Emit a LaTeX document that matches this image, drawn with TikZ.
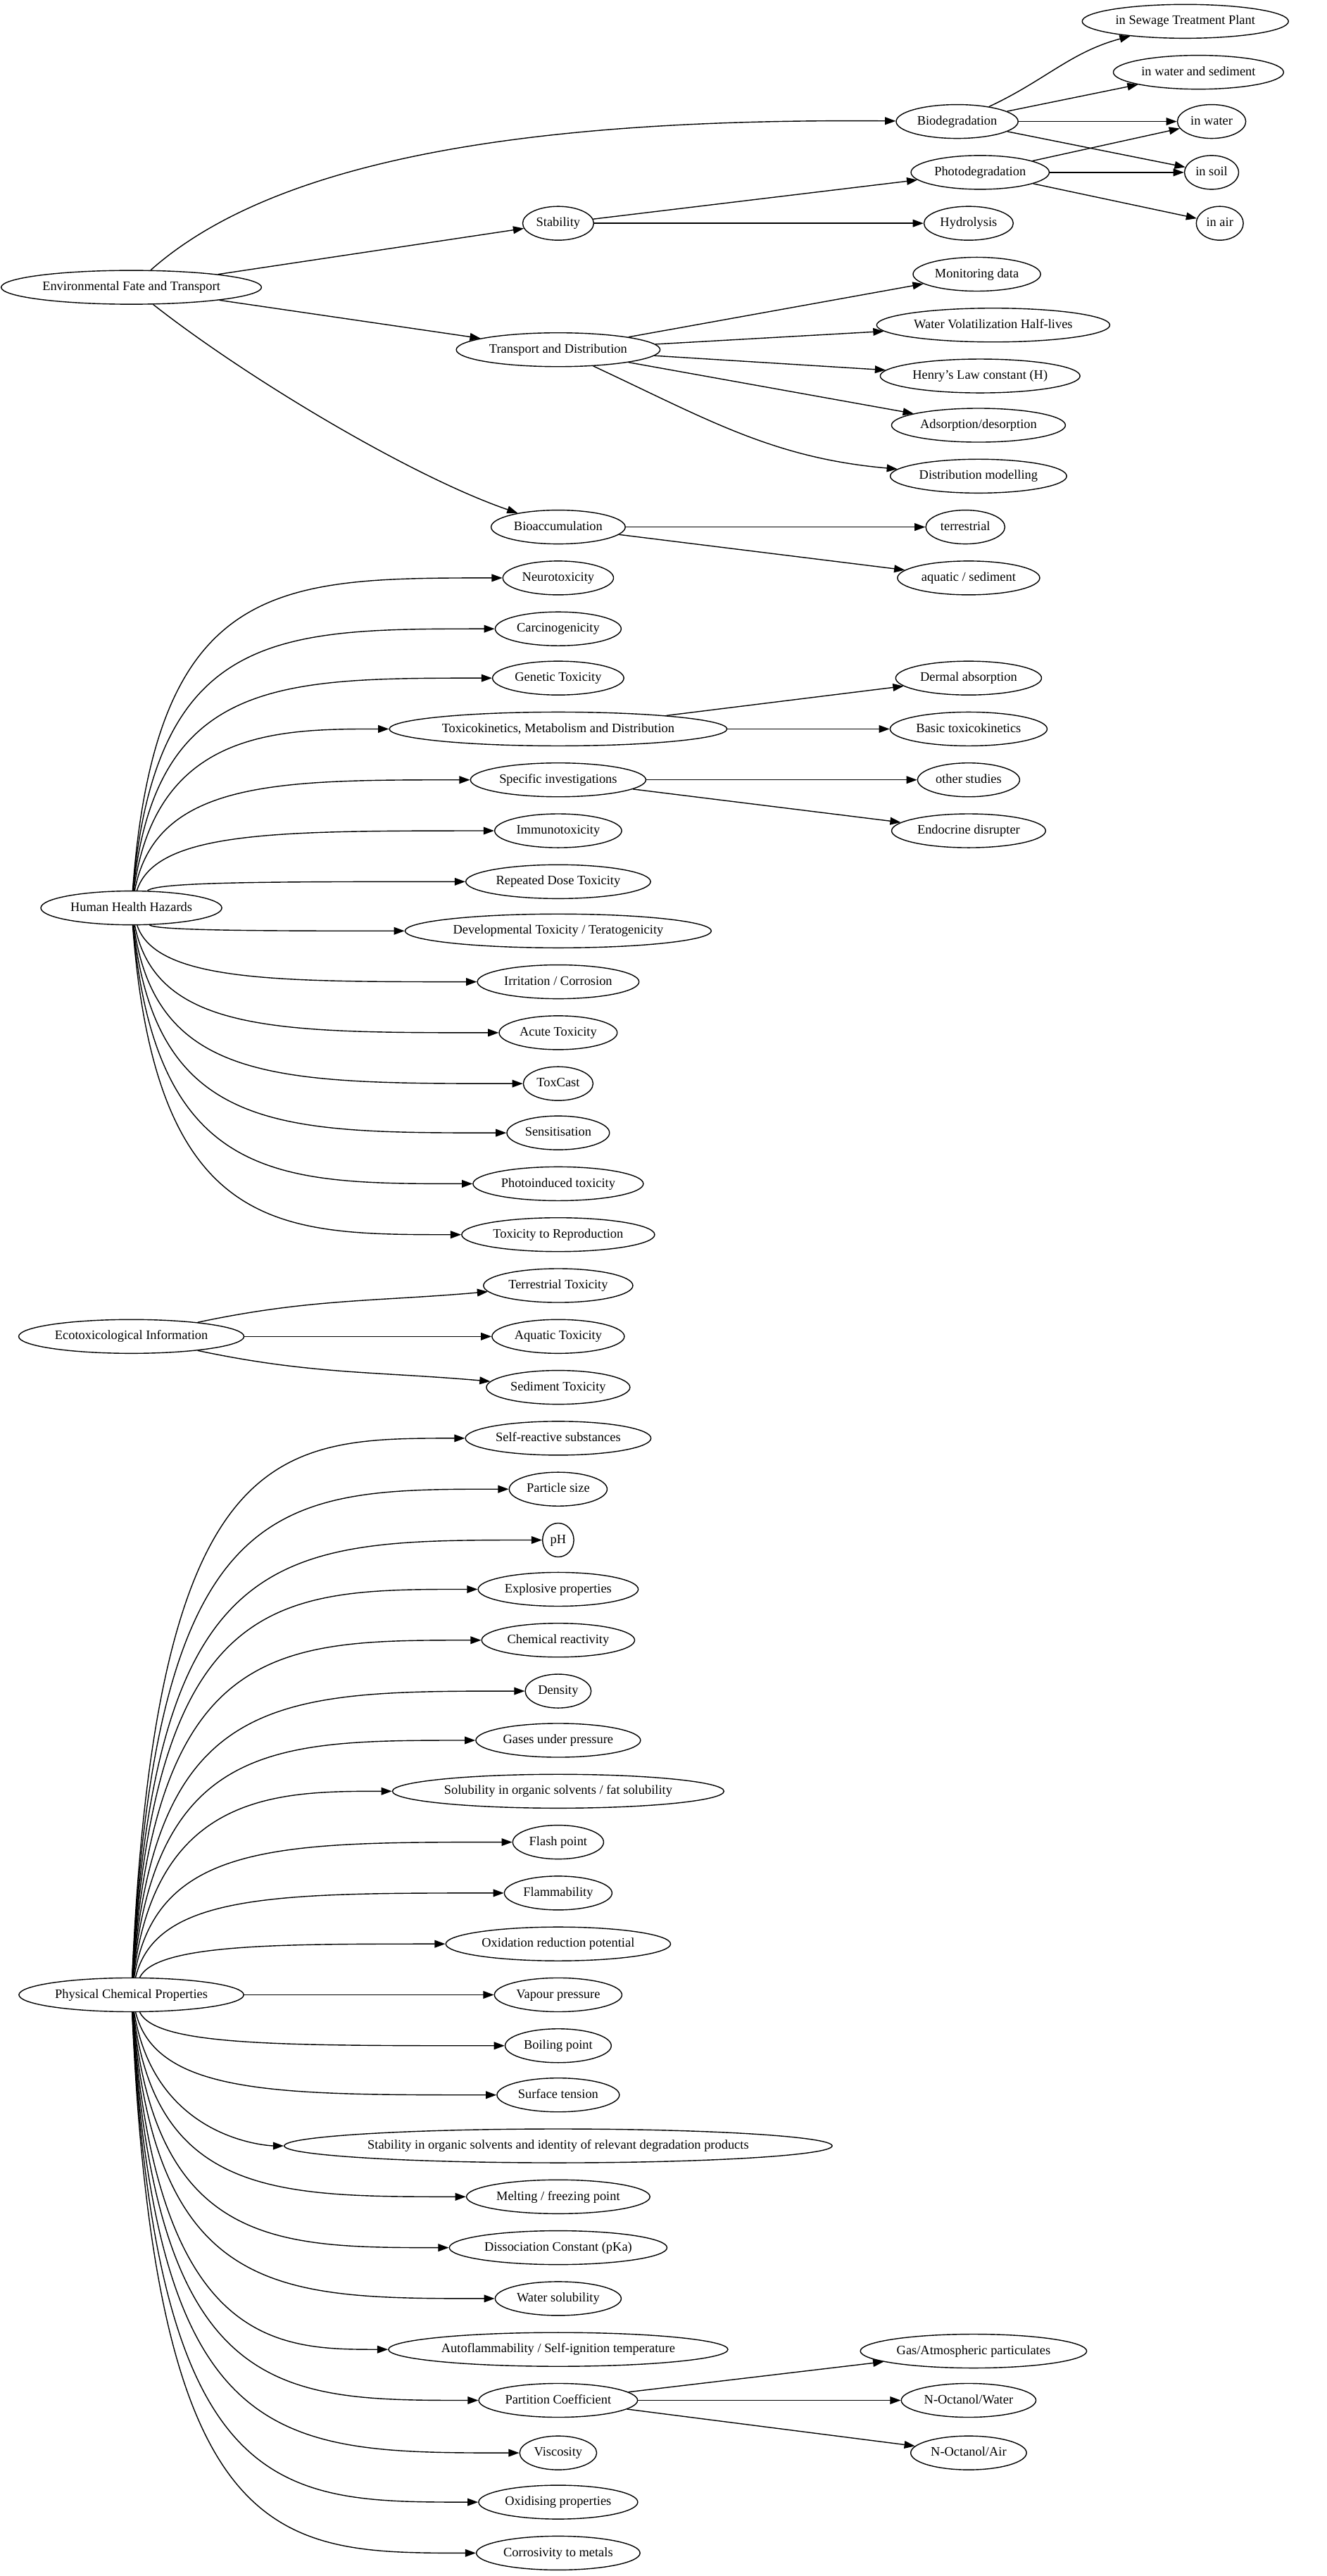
\documentclass[tikz,border=0pt]{standalone}
\usepackage{fontspec}
\setmainfont{Liberation Serif}
\usetikzlibrary{shapes.geometric,arrows.meta}
\tikzset{
  nd/.style={draw,ellipse,line width=0.6pt,inner xsep=1.9pt,inner ysep=1pt,minimum height=20.6pt,font=\fontsize{7.9}{8}\selectfont,text height=5.6pt,text depth=1.6pt},
  edge/.style={draw,line width=0.6pt,-{Triangle[length=6.5pt,width=4.6pt]}}
}
\newcommand{\N}[4]{\node[nd] (#1) at (#2,#3) {#4};}
\begin{document}
\begin{tikzpicture}[x=1pt,y=-1pt]
\useasboundingbox (0,0) rectangle (808,1569);
\N{env}{80}{175}{Environmental Fate and Transport}
\N{bio}{583}{74}{Biodegradation}
\N{stp}{722}{13}{in Sewage Treatment Plant}
\N{ws}{730}{44}{in water and sediment}
\N{iw}{738}{74}{in water}
\N{is}{738}{105}{in soil}
\N{ia}{743}{136}{in air}
\N{pho}{597}{105}{Photodegradation}
\N{hyd}{590}{136}{Hydrolysis}
\N{sta}{340}{136}{Stability}
\N{mon}{595}{167}{Monitoring data}
\N{wvh}{605}{198}{Water Volatilization Half-lives}
\N{hlc}{597}{229}{Henry's Law constant (H)}
\N{ads}{596}{259}{Adsorption/desorption}
\N{dmo}{596}{290}{Distribution modelling}
\N{tad}{340}{213}{Transport and Distribution}
\N{bac}{340}{321}{Bioaccumulation}
\N{ter}{588}{321}{terrestrial}
\N{aqs}{590}{352}{aquatic / sediment}
\N{hhh}{80}{553}{Human Health Hazards}
\N{h1}{340}{352}{Neurotoxicity}
\N{h2}{340}{383}{Carcinogenicity}
\N{h3}{340}{413}{Genetic Toxicity}
\N{h4}{340}{444}{Toxicokinetics, Metabolism and Distribution}
\N{der}{590}{413}{Dermal absorption}
\N{btk}{590}{444}{Basic toxicokinetics}
\N{h5}{340}{475}{Specific investigations}
\N{oth}{590}{475}{other studies}
\N{end}{590}{506}{Endocrine disrupter}
\N{h6}{340}{506}{Immunotoxicity}
\N{h7}{340}{537}{Repeated Dose Toxicity}
\N{h8}{340}{567}{Developmental Toxicity / Teratogenicity}
\N{h9}{340}{598}{Irritation / Corrosion}
\N{h10}{340}{629}{Acute Toxicity}
\N{h11}{340}{660}{ToxCast}
\N{h12}{340}{690}{Sensitisation}
\N{h13}{340}{721}{Photoinduced toxicity}
\N{h14}{340}{752}{Toxicity to Reproduction}
\N{eco}{80}{814}{Ecotoxicological Information}
\N{e1}{340}{783}{Terrestrial Toxicity}
\N{e2}{340}{814}{Aquatic Toxicity}
\N{e3}{340}{845}{Sediment Toxicity}
\N{pcp}{80}{1215}{Physical Chemical Properties}
\N{p1}{340}{876}{Self-reactive substances}
\N{p2}{340}{907}{Particle size}
\N{p3}{340}{938}{pH}
\N{p4}{340}{968}{Explosive properties}
\N{p5}{340}{999}{Chemical reactivity}
\N{p6}{340}{1030}{Density}
\N{p7}{340}{1060}{Gases under pressure}
\N{p8}{340}{1091}{Solubility in organic solvents / fat solubility}
\N{p9}{340}{1122}{Flash point}
\N{p10}{340}{1153}{Flammability}
\N{p11}{340}{1184}{Oxidation reduction potential}
\N{p12}{340}{1215}{Vapour pressure}
\N{p13}{340}{1246}{Boiling point}
\N{p14}{340}{1276}{Surface tension}
\N{p15}{340}{1307}{Stability in organic solvents and identity of relevant degradation products}
\N{p16}{340}{1338}{Melting / freezing point}
\N{p17}{340}{1369}{Dissociation Constant (pKa)}
\N{p18}{340}{1400}{Water solubility}
\N{p19}{340}{1431}{Autoflammability / Self-ignition temperature}
\N{p20}{340}{1462}{Partition Coefficient}
\N{gas}{593}{1432}{Gas/Atmospheric particulates}
\N{now}{590}{1462}{N-Octanol/Water}
\N{noa}{590}{1494}{N-Octanol/Air}
\N{p21}{340}{1494}{Viscosity}
\N{p22}{340}{1524}{Oxidising properties}
\N{p23}{340}{1555}{Corrosivity to metals}
% env
\draw[edge] (env) .. controls (170,95) and (330,72) .. (bio);
\draw[edge] (env) -- (sta);
\draw[edge] (env) -- (tad);
\draw[edge] (env) .. controls (150,230) and (250,290) .. (bac);
\draw[edge] (bio) to[out=25,in=195] (stp);
\draw[edge] (bio) -- (ws);
\draw[edge] (bio) -- (iw);
\draw[edge] (bio) -- (is);
\draw[edge] (pho) -- (iw);
\draw[edge] (pho) -- (is);
\draw[edge] (pho) -- (ia);
\draw[edge] (sta) -- (pho);
\draw[edge] (sta) -- (hyd);
\draw[edge] (tad) -- (mon);
\draw[edge] (tad) -- (wvh);
\draw[edge] (tad) -- (hlc);
\draw[edge] (tad) -- (ads);
\draw[edge] (tad) to[out=-25,in=175] (dmo);
\draw[edge] (bac) -- (ter);
\draw[edge] (bac) -- (aqs);
% hhh
\foreach \t/\y in {h1/352,h2/383,h3/413,h4/444,h5/475,h6/506,h7/537,h8/567,h9/598,h10/629,h11/660,h12/690,h13/721,h14/752}{
  \draw[edge] (hhh) .. controls (95,\y) and (170,\y) .. (\t);}
\draw[edge] (h4) -- (der);
\draw[edge] (h4) -- (btk);
\draw[edge] (h5) -- (oth);
\draw[edge] (h5) -- (end);
% eco
\draw[edge] (eco) to[out=12,in=185] (e1);
\draw[edge] (eco) -- (e2);
\draw[edge] (eco) to[out=-12,in=175] (e3);
% pcp
\foreach \t/\y in {p1/876,p2/907,p3/938,p4/968,p5/999,p6/1030,p7/1060,p8/1091,p9/1122,p10/1153,p11/1184,p13/1246,p14/1276,p15/1307,p16/1338,p17/1369,p18/1400,p19/1431,p20/1462,p21/1494,p22/1524,p23/1555}{
  \draw[edge] (pcp) .. controls (95,\y) and (170,\y) .. (\t);}
\draw[edge] (pcp) -- (p12);
\draw[edge] (p20) -- (gas);
\draw[edge] (p20) -- (now);
\draw[edge] (p20) -- (noa);
\end{tikzpicture}
\end{document}
